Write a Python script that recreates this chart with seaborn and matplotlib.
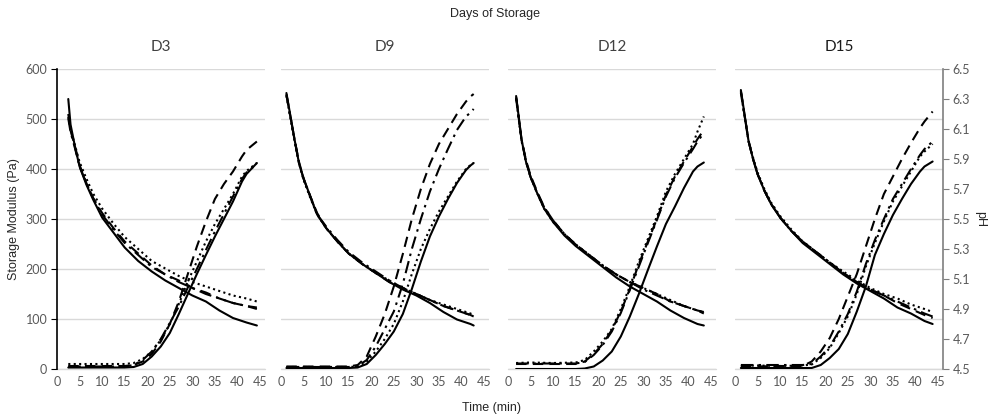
import matplotlib
matplotlib.use('Agg')
import matplotlib.pyplot as plt
import seaborn as sns

# ---- data ----
panels = ['D3', 'D9', 'D12', 'D15']
t_start = [2.5, 1.2, 1.8, 1.3]
t_end = [44.3, 42.7, 43.4, 43.8]

# time grids (first / last point replaced per panel by t_start / t_end)
t_ph = [2, 3, 4, 5, 6.5, 8, 10, 12.5, 15, 18, 21, 24, 27, 30, 33, 36, 39, 42, 44]
t_g = [2, 5, 10, 15, 17, 19, 21, 23, 25, 27, 29, 31, 33, 35, 37, 39, 41, 42, 44]

styles = ['solid', 'dashed', 'dotted', 'dashdot']

# pH (right axis)
ph_d3_solid = [6.30, 6.13, 5.98, 5.85, 5.73, 5.63, 5.51, 5.41, 5.31, 5.22, 5.15, 5.09, 5.04, 4.99, 4.95, 4.89, 4.84, 4.81, 4.79]
ph_d3_dashed = [6.20, 6.09, 5.98, 5.86, 5.74, 5.64, 5.54, 5.44, 5.35, 5.27, 5.19, 5.13, 5.09, 5.04, 5.01, 4.97, 4.94, 4.92, 4.91]
ph_d3_dotted = [6.18, 6.10, 5.99, 5.88, 5.77, 5.67, 5.57, 5.47, 5.38, 5.30, 5.22, 5.17, 5.12, 5.08, 5.05, 5.02, 4.99, 4.97, 4.95]
ph_d3_dashdot = [6.17, 6.08, 5.97, 5.85, 5.74, 5.64, 5.53, 5.43, 5.34, 5.26, 5.18, 5.13, 5.08, 5.04, 5.00, 4.97, 4.94, 4.92, 4.90]

ph_d9_solid = [6.34, 6.03, 5.87, 5.77, 5.65, 5.53, 5.44, 5.35, 5.27, 5.20, 5.14, 5.08, 5.03, 4.99, 4.94, 4.88, 4.83, 4.80, 4.79]
ph_d9_dashed = [6.33, 6.03, 5.88, 5.77, 5.65, 5.54, 5.44, 5.35, 5.27, 5.20, 5.14, 5.08, 5.04, 5.00, 4.96, 4.92, 4.89, 4.86, 4.85]
ph_d9_dotted = [6.32, 6.02, 5.87, 5.76, 5.64, 5.53, 5.44, 5.35, 5.27, 5.20, 5.14, 5.09, 5.04, 5.00, 4.96, 4.93, 4.90, 4.87, 4.86]
ph_d9_dashdot = [6.33, 6.03, 5.87, 5.77, 5.65, 5.53, 5.45, 5.36, 5.28, 5.21, 5.15, 5.09, 5.04, 5.00, 4.96, 4.92, 4.89, 4.86, 4.85]

ph_d12_solid = [6.32, 6.03, 5.88, 5.78, 5.67, 5.57, 5.48, 5.39, 5.32, 5.25, 5.18, 5.11, 5.05, 5.00, 4.95, 4.89, 4.84, 4.80, 4.79]
ph_d12_dashed = [6.31, 6.03, 5.89, 5.79, 5.68, 5.58, 5.49, 5.40, 5.33, 5.26, 5.19, 5.13, 5.08, 5.04, 5.00, 4.95, 4.92, 4.89, 4.88]
ph_d12_dotted = [6.30, 6.02, 5.88, 5.78, 5.67, 5.57, 5.48, 5.40, 5.33, 5.26, 5.19, 5.13, 5.08, 5.04, 5.00, 4.96, 4.92, 4.89, 4.88]
ph_d12_dashdot = [6.31, 6.03, 5.88, 5.78, 5.67, 5.58, 5.49, 5.40, 5.33, 5.26, 5.19, 5.13, 5.08, 5.03, 4.99, 4.95, 4.92, 4.89, 4.87]

ph_d15_solid = [6.36, 6.02, 5.90, 5.80, 5.69, 5.60, 5.51, 5.42, 5.34, 5.27, 5.20, 5.13, 5.07, 5.02, 4.97, 4.91, 4.87, 4.82, 4.80]
ph_d15_dashed = [6.35, 6.02, 5.90, 5.80, 5.69, 5.60, 5.51, 5.42, 5.35, 5.28, 5.21, 5.14, 5.08, 5.03, 4.99, 4.94, 4.90, 4.86, 4.84]
ph_d15_dotted = [6.34, 6.02, 5.91, 5.81, 5.70, 5.61, 5.52, 5.43, 5.35, 5.28, 5.21, 5.15, 5.09, 5.04, 5.00, 4.97, 4.93, 4.90, 4.88]
ph_d15_dashdot = [6.35, 6.02, 5.90, 5.80, 5.69, 5.60, 5.51, 5.42, 5.35, 5.28, 5.21, 5.14, 5.08, 5.03, 4.99, 4.95, 4.91, 4.87, 4.85]

# storage modulus G' (Pa, left axis)
g_d3_solid = [3, 3, 3, 3, 4, 10, 25, 45, 72, 110, 150, 190, 228, 265, 300, 335, 375, 390, 412]
g_d3_dashed = [6, 6, 6, 6, 8, 15, 30, 55, 90, 135, 190, 245, 295, 340, 370, 395, 425, 438, 455]
g_d3_dotted = [10, 10, 10, 10, 12, 20, 35, 58, 90, 130, 175, 215, 255, 290, 320, 350, 385, 396, 412]
g_d3_dashdot = [5, 5, 5, 5, 8, 18, 35, 60, 92, 125, 163, 200, 238, 275, 310, 345, 380, 393, 410]

g_d9_solid = [2, 2, 2, 2, 3, 10, 28, 50, 75, 110, 160, 215, 265, 305, 340, 372, 398, 407, 412]
g_d9_dashed = [5, 5, 5, 5, 8, 25, 65, 110, 165, 230, 300, 360, 410, 450, 480, 510, 535, 545, 550]
g_d9_dotted = [4, 4, 4, 4, 5, 15, 35, 60, 90, 135, 190, 240, 280, 315, 345, 375, 400, 408, 412]
g_d9_dashdot = [4, 4, 4, 4, 6, 18, 45, 80, 115, 170, 240, 300, 355, 400, 440, 478, 505, 513, 520]

g_d12_solid = [0, 0, 0, 0, 1, 5, 17, 35, 65, 105, 150, 198, 245, 290, 325, 362, 395, 405, 413]
g_d12_dashed = [10, 10, 10, 10, 15, 30, 50, 78, 115, 160, 210, 255, 300, 348, 385, 415, 445, 460, 478]
g_d12_dotted = [12, 13, 12, 13, 18, 35, 55, 80, 120, 165, 215, 260, 305, 355, 390, 420, 450, 475, 505]
g_d12_dashdot = [11, 11, 11, 11, 14, 28, 48, 75, 112, 158, 205, 252, 298, 345, 382, 412, 440, 455, 472]

g_d15_solid = [2, 2, 2, 2, 2, 8, 22, 40, 70, 115, 165, 228, 270, 308, 340, 370, 395, 405, 415]
g_d15_dashed = [5, 5, 6, 6, 15, 35, 62, 100, 145, 190, 245, 300, 350, 385, 420, 452, 482, 495, 515]
g_d15_dotted = [6, 7, 6, 7, 9, 22, 42, 72, 105, 150, 205, 252, 295, 335, 365, 395, 425, 435, 450]
g_d15_dashdot = [8, 8, 8, 8, 10, 25, 45, 75, 110, 155, 210, 258, 300, 340, 370, 400, 428, 440, 455]

ph_series = [
    [ph_d3_solid, ph_d3_dashed, ph_d3_dotted, ph_d3_dashdot],
    [ph_d9_solid, ph_d9_dashed, ph_d9_dotted, ph_d9_dashdot],
    [ph_d12_solid, ph_d12_dashed, ph_d12_dotted, ph_d12_dashdot],
    [ph_d15_solid, ph_d15_dashed, ph_d15_dotted, ph_d15_dashdot],
]
g_series = [
    [g_d3_solid, g_d3_dashed, g_d3_dotted, g_d3_dashdot],
    [g_d9_solid, g_d9_dashed, g_d9_dotted, g_d9_dashdot],
    [g_d12_solid, g_d12_dashed, g_d12_dotted, g_d12_dashdot],
    [g_d15_solid, g_d15_dashed, g_d15_dotted, g_d15_dashdot],
]

# ---- styling ----
sns.set_style('white')
plt.rcParams['font.family'] = ['Lato', 'DejaVu Sans']

line_styles = {
    'solid': '-',
    'dashed': (0, (5, 3)),
    'dotted': (0, (1, 1.6)),
    'dashdot': (0, (6, 2.5, 1.2, 2.5)),
}
grid_c = '#d9d9d9'
tick_c = '#595959'
title_c = ['#404040', '#404040', '#404040', '#1a1a1a']

W, H = 991, 419
fig = plt.figure(figsize=(W / 100, H / 100), dpi=100)

lefts = [57, 281, 508, 735]
pw = 208
top_px, bot_px = 69, 369


def per_panel_time(grid, i):
    t = list(grid)
    t[0] = t_start[i]
    t[-1] = t_end[i]
    return t


for i, name in enumerate(panels):
    ax = fig.add_axes([lefts[i] / W, 1 - bot_px / H, pw / W, (bot_px - top_px) / H])
    tw = ax.twinx()

    tg = per_panel_time(t_g, i)
    tp = per_panel_time(t_ph, i)
    for s, g, p in zip(styles, g_series[i], ph_series[i]):
        sns.lineplot(x=tg, y=g, ax=ax, color='black', lw=1.5, linestyle=line_styles[s])
        sns.lineplot(x=tp, y=p, ax=tw, color='black', lw=1.5, linestyle=line_styles[s])

    ax.set_xlim(0, 46.1)
    ax.set_ylim(0, 600)
    tw.set_ylim(4.5, 6.5)
    ax.set_xticks(range(0, 50, 5))
    ax.set_yticks(range(0, 700, 100))
    tw.set_yticks([4.5 + 0.2 * k for k in range(11)])
    tw.set_yticklabels([f'{4.5 + 0.2 * k:.1f}' for k in range(11)])

    ax.grid(axis='y', color=grid_c, lw=1)
    ax.set_axisbelow(True)
    ax.axhline(0, color=grid_c, lw=1, zorder=0, clip_on=False)
    tw.grid(False)
    for sp in ax.spines.values():
        sp.set_visible(False)
    for sp in tw.spines.values():
        sp.set_visible(False)

    ax.tick_params(axis='x', length=0, labelsize=9, labelcolor=tick_c, pad=5)
    ax.set_xlabel('')
    ax.set_ylabel('')
    tw.set_ylabel('')

    if i == 0:
        ax.spines['left'].set_visible(True)
        ax.spines['left'].set_color('black')
        ax.spines['left'].set_linewidth(1.2)
        ax.tick_params(axis='y', left=True, length=4, color='black', labelsize=9, labelcolor=tick_c, pad=3)
    else:
        ax.tick_params(axis='y', left=False, labelleft=False)

    if i == 3:
        tw.spines['right'].set_visible(True)
        tw.spines['right'].set_color('#7f7f7f')
        tw.spines['right'].set_linewidth(1.2)
        tw.tick_params(axis='y', right=True, length=4, color='#7f7f7f', labelsize=9, labelcolor=tick_c, pad=3)
    else:
        tw.tick_params(axis='y', right=False, labelright=False)

    fig.text((lefts[i] + pw / 2) / W, 1 - 47 / H, name, ha='center', va='center', fontsize=11, color=title_c[i])

fig.text(0.5, 1 - 14 / H, 'Days of Storage', ha='center', va='center', fontsize=9,
         family=['Liberation Sans', 'DejaVu Sans'])
fig.text(492 / W, 1 - 408 / H, 'Time (min)', ha='center', va='center', fontsize=9,
         family=['Liberation Sans', 'DejaVu Sans'])
fig.text(14 / W, 1 - 219 / H, 'Storage Modulus (Pa)', ha='center', va='center', rotation=90, fontsize=9,
         family=['Liberation Sans', 'DejaVu Sans'])
fig.text(980 / W, 1 - 219 / H, 'pH', ha='center', va='center', rotation=270, fontsize=9,
         family=['Liberation Sans', 'DejaVu Sans'])

fig.savefig('out.png', dpi=100)
